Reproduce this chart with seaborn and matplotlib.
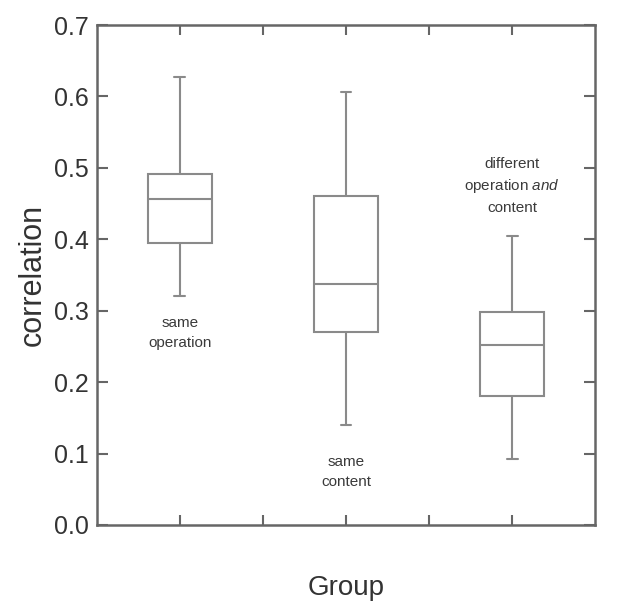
import numpy as np
import pandas as pd
import matplotlib
matplotlib.use("Agg")
import matplotlib.pyplot as plt
import seaborn as sns

# box statistics: whisker low, Q1, median, Q3, whisker high
groups = ["same operation", "same content", "different operation and content"]
same_operation = [0.321, 0.395, 0.456, 0.491, 0.627]
same_content = [0.140, 0.270, 0.337, 0.461, 0.606]
different_both = [0.092, 0.181, 0.252, 0.298, 0.405]

labels = ["same\noperation", "same\ncontent", "different\noperation $\\mathit{and}$\ncontent"]
label_y = [0.269, 0.074, 0.475]
yticks = [0.0, 0.1, 0.2, 0.3, 0.4, 0.5, 0.6, 0.7]

df = pd.DataFrame({
    "Group": np.repeat(groups, 5),
    "correlation": same_operation + same_content + different_both,
})

sns.set_style("ticks")
plt.rcParams["font.family"] = ["Liberation Sans", "DejaVu Sans"]
plt.rcParams["mathtext.fontset"] = "custom"
plt.rcParams["mathtext.rm"] = "Liberation Sans"
plt.rcParams["mathtext.it"] = "Liberation Sans:italic"

spine_col = "#666666"
box_col = "#8a8a8a"
text_col = "#333333"

fig = plt.figure(figsize=(6.24, 6.13), dpi=100)
ax = fig.add_axes([0.155, 0.1436, 0.799, 0.8156])

sns.boxplot(data=df, x="Group", y="correlation", order=groups, ax=ax,
            whis=(0, 100), width=0.385, color="white", linecolor=box_col,
            linewidth=1.5, saturation=1, showfliers=False)

# narrow whisker caps
cont = ax.containers[0]
for i, cap in enumerate(cont.caps):
    xc = i // 2
    cap.set_xdata([xc - 0.032, xc + 0.032])

for x, (txt, y) in enumerate(zip(labels, label_y)):
    ax.text(x, y, txt, ha="center", va="center", ma="center",
            fontsize=11, color="#3a3a3a", linespacing=1.5)

ax.set_xlim(-0.5, 2.5)
ax.set_ylim(0, 0.7)
ax.set_yticks(yticks)
ax.set_yticklabels([f"{v:.1f}" for v in yticks])
ax.set_xticks([0, 0.5, 1, 1.5, 2])
ax.set_xticklabels([])
ax.tick_params(direction="in", length=8, width=1.5, color=spine_col,
               top=True, right=True, labelsize=18, labelcolor=text_col, pad=6)
ax.tick_params(axis="x", length=7)
for s in ax.spines.values():
    s.set_visible(True)
    s.set_color(spine_col)
    s.set_linewidth(1.8)

ax.set_xlabel("Group", fontsize=20, color=text_col, labelpad=30)
ax.set_ylabel("correlation", fontsize=22, color=text_col, labelpad=4)

fig.savefig("out.png", dpi=100)
